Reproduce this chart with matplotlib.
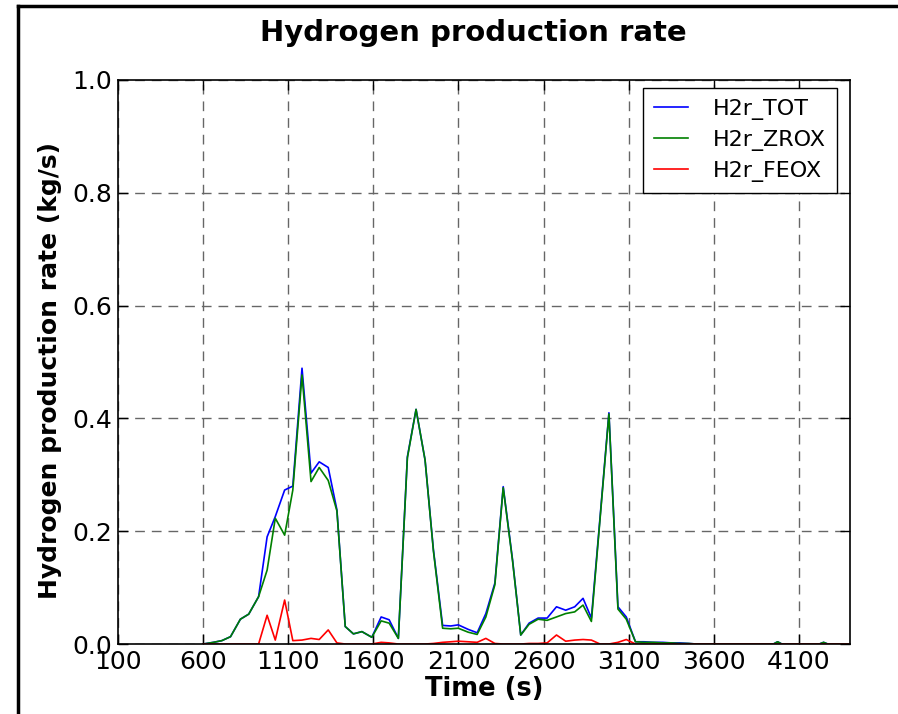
'''
Hydrogen production rate vs time (H2r_TOT, H2r_ZROX, H2r_FEOX).
'''

import numpy as np
from matplotlib import pyplot as plt
from matplotlib.lines import Line2D


#(0) Data:
time = [600, 661, 710, 761, 819, 868, 926, 976, 1024, 1079, 1127, 1181, 1234, 1282,
        1335, 1386, 1435, 1483, 1533, 1591, 1646, 1693, 1747, 1800, 1851, 1904, 1953,
        2007, 2055, 2099, 2157, 2210, 2261, 2314, 2363, 2418, 2466, 2515, 2568, 2621,
        2676, 2730, 2783, 2832, 2881, 2932, 2984, 3037, 3086, 3140, 3190, 3245, 3300,
        3350, 3400, 3450, 3500, 3600, 3700, 3800, 3900, 3950, 3975, 4000, 4050, 4150,
        4220, 4245, 4270, 4350, 4400]
h2r_tot = [0.000, 0.003, 0.006, 0.013, 0.044, 0.053, 0.084, 0.190, 0.226, 0.273, 0.280,
           0.489, 0.303, 0.323, 0.313, 0.238, 0.031, 0.018, 0.022, 0.012, 0.048, 0.043,
           0.010, 0.332, 0.416, 0.326, 0.167, 0.033, 0.032, 0.034, 0.026, 0.020, 0.054,
           0.108, 0.279, 0.149, 0.016, 0.037, 0.046, 0.046, 0.066, 0.060, 0.066, 0.081,
           0.046, 0.225, 0.410, 0.066, 0.048, 0.004, 0.004, 0.003, 0.003, 0.002, 0.002,
           0.001, 0.000, 0.000, 0.000, 0.000, 0.000, 0.000, 0.004, 0.000, 0.000, 0.000,
           0.000, 0.003, 0.000, 0.000, 0.000]
h2r_zrox = [0.000, 0.003, 0.006, 0.013, 0.044, 0.053, 0.084, 0.131, 0.223, 0.193, 0.273,
            0.477, 0.288, 0.313, 0.290, 0.236, 0.031, 0.018, 0.022, 0.012, 0.041, 0.037,
            0.010, 0.330, 0.416, 0.326, 0.165, 0.028, 0.027, 0.028, 0.021, 0.017, 0.048,
            0.105, 0.277, 0.147, 0.016, 0.035, 0.044, 0.042, 0.048, 0.054, 0.057, 0.069,
            0.040, 0.222, 0.408, 0.062, 0.044, 0.004, 0.003, 0.003, 0.002, 0.002, 0.001,
            0.001, 0.000, 0.000, 0.000, 0.000, 0.000, 0.000, 0.004, 0.000, 0.000, 0.000,
            0.000, 0.003, 0.000, 0.000, 0.000]
h2r_feox = [0.000, 0.000, 0.000, 0.000, 0.000, 0.000, 0.000, 0.051, 0.007, 0.078, 0.006,
            0.007, 0.010, 0.008, 0.025, 0.002, 0.000, 0.000, 0.000, 0.000, 0.003, 0.002,
            0.000, 0.000, 0.000, 0.000, 0.001, 0.003, 0.004, 0.005, 0.004, 0.003, 0.010,
            0.001, 0.000, 0.000, 0.000, 0.001, 0.001, 0.002, 0.016, 0.005, 0.007, 0.008,
            0.007, 0.000, 0.000, 0.003, 0.008, 0.000, 0.000, 0.000, 0.000, 0.000, 0.000,
            0.000, 0.000, 0.000, 0.000, 0.000, 0.000, 0.000, 0.000, 0.000, 0.000, 0.000,
            0.000, 0.000, 0.000, 0.000, 0.000]
xticks = [100, 600, 1100, 1600, 2100, 2600, 3100, 3600, 4100]
yticks = [0.0, 0.2, 0.4, 0.6, 0.8, 1.0]


#(1) Plot:
plt.close('all')
fig = plt.figure(figsize=(8.98, 7.14), dpi=100)
ax  = fig.add_axes([0.1314, 0.098, 0.8151, 0.790])
ax.plot(time, h2r_tot,  color='b', lw=1.2, label='H2r_TOT')
ax.plot(time, h2r_zrox, color='g', lw=1.2, label='H2r_ZROX')
ax.plot(time, h2r_feox, color='r', lw=1.2, label='H2r_FEOX')

ax.set_xlim(100, 4400)
ax.set_ylim(0, 1.0)
ax.set_xticks(xticks)
ax.set_yticks(yticks)
ax.set_yticklabels(['%.1f' % v for v in yticks])
ax.tick_params(direction='in', length=7, width=1, labelsize=18, pad=4)
ax.tick_params(top=True, right=True)
ax.grid(True, color='0.4', ls=(0, (7, 5)), lw=1)
for sp in ax.spines.values():
	sp.set_linewidth(1.2)
	sp.set_zorder(3)

ax.set_title('Hydrogen production rate', fontsize=21, fontweight='bold', pad=28, x=0.485)
ax.set_xlabel('Time (s)', fontsize=18.5, fontweight='bold', labelpad=2)
ax.set_ylabel('Hydrogen production rate (kg/s)', fontsize=18, fontweight='bold')
ax.yaxis.set_label_coords(-0.076, 0.485)

leg = ax.legend(loc='upper right', bbox_to_anchor=(837/898, 1 - 88/714),
                bbox_transform=fig.transFigure, borderaxespad=0, fontsize=16,
                fancybox=False, framealpha=1, edgecolor='k', handlelength=1.55,
                handletextpad=1.1, labelspacing=0.45, borderpad=0.5)
leg.get_frame().set_linewidth(1.0)

### frame lines at the left and top edge of the picture
fig.add_artist(Line2D([18/898, 18/898], [0, 1 - 6/714], color='k', lw=2.5, transform=fig.transFigure))
fig.add_artist(Line2D([18/898, 1], [1 - 6/714, 1 - 6/714], color='k', lw=2.5, transform=fig.transFigure))

plt.savefig('out.png', dpi=100)
